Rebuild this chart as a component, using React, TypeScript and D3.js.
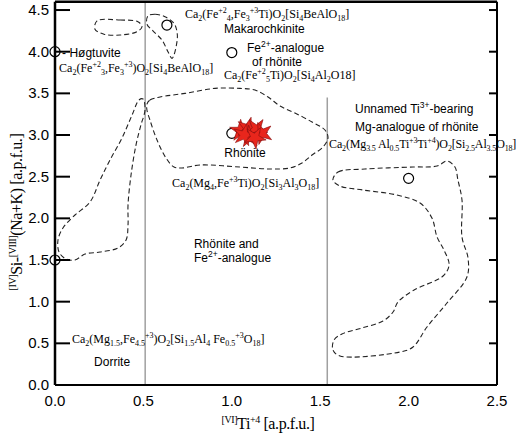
import React from 'react';
import * as d3 from 'd3';

const W = 520;
const H = 435;

// ---- data ----
const xTicks = [0, 0.5, 1.0, 1.5, 2.0, 2.5];
const yTicks = [0, 0.5, 1.0, 1.5, 2.0, 2.5, 3.0, 3.5, 4.0, 4.5];
const xDomain = [0, 2.5];
const yDomain = [0, 4.6];

const dividerLines = [
  { x: 0.51, y0: 0, y1: 4.6 },
  { x: 1.54, y0: 0, y1: 3.45 },
];

const contourSmallTop: [number, number][] = [
  [0.238, 4.37], [0.368, 4.38], [0.469, 4.36], [0.492, 4.30], [0.464, 4.24],
  [0.368, 4.20], [0.277, 4.21], [0.226, 4.27],
];
const contourTeardrop: [number, number][] = [
  [0.526, 4.43], [0.566, 4.45], [0.622, 4.42], [0.673, 4.34], [0.690, 4.24],
  [0.690, 4.12], [0.662, 3.92], [0.639, 4.00], [0.605, 4.14], [0.554, 4.25],
  [0.520, 4.33],
];
const contourRhonite: [number, number][] = [
  [0.520, 3.37], [0.537, 3.42], [0.594, 3.456], [0.735, 3.50], [0.905, 3.56],
  [1.046, 3.56], [1.131, 3.54], [1.205, 3.456], [1.273, 3.348], [1.357, 3.264],
  [1.454, 3.156], [1.527, 3.06], [1.544, 2.964], [1.516, 2.856], [1.454, 2.76],
  [1.397, 2.664], [1.329, 2.604], [1.216, 2.592], [1.046, 2.616], [0.820, 2.64],
  [0.718, 2.604], [0.673, 2.616], [0.628, 2.724], [0.577, 2.94], [0.537, 3.18],
  [0.520, 3.30],
];
const contourLeft: [number, number][] = [
  [0.498, 3.432], [0.509, 3.30], [0.486, 3.12], [0.458, 2.88], [0.430, 2.52],
  [0.413, 2.16], [0.413, 1.92], [0.402, 1.74], [0.356, 1.644], [0.255, 1.596],
  [0.170, 1.572], [0.113, 1.50], [0.062, 1.512], [0.023, 1.596], [0.017, 1.74],
  [0.045, 1.884], [0.113, 2.04], [0.198, 2.196], [0.255, 2.46], [0.311, 2.70],
  [0.379, 2.964], [0.436, 3.24], [0.475, 3.42],
];
const contourRight: [number, number][] = [
  [1.572, 2.46], [1.601, 2.556], [1.753, 2.592], [2.025, 2.616], [2.161, 2.628],
  [2.217, 2.688], [2.262, 2.616], [2.279, 2.46], [2.302, 2.22], [2.302, 1.776],
  [2.336, 1.524], [2.330, 1.296], [2.217, 0.984], [2.104, 0.696], [2.025, 0.456],
  [1.951, 0.396], [1.612, 0.348], [1.572, 0.42], [1.578, 0.54], [1.623, 0.612],
  [1.736, 0.684], [1.855, 0.768], [1.912, 0.876], [1.940, 0.996], [2.031, 1.14],
  [2.195, 1.308], [2.229, 1.44], [2.200, 1.62], [2.161, 1.776], [2.132, 2.004],
  [2.065, 2.184], [1.934, 2.28], [1.742, 2.34], [1.612, 2.388],
];
const contours = [contourSmallTop, contourTeardrop, contourRhonite, contourLeft, contourRight];

const endMemberX = [0.0, 0.0, 0.633, 1.0, 1.0, 2.0];
const endMemberY = [4.0, 1.5, 4.32, 3.99, 3.02, 2.48];

const starX = [1.05, 1.09, 1.14, 1.17, 1.10, 1.07, 1.13];
const starY = [3.05, 3.08, 3.07, 3.02, 2.98, 3.0, 2.97];

// labels (sans)
const nameLabels = [
  { t: 'Makarochkinite', x: 0.956, y: 4.224, a: 'start' },
  { t: 'Fe^{2+}-analogue', x: 1.086, y: 3.996, a: 'start' },
  { t: 'of rhönite', x: 1.114, y: 3.828, a: 'start' },
  { t: '- Høgtuvite', x: 0.04, y: 3.936, a: 'start' },
  { t: 'Rhönite', x: 1.075, y: 2.736, a: 'middle' },
  { t: 'Unnamed Ti^{3+}-bearing', x: 1.697, y: 3.264, a: 'start' },
  { t: 'Mg-analogue of rhönite', x: 1.697, y: 3.048, a: 'start' },
  { t: 'Rhönite and', x: 0.786, y: 1.644, a: 'start' },
  { t: 'Fe^{2+}-analogue', x: 0.786, y: 1.476, a: 'start' },
  { t: 'Dorrite', x: 0.221, y: 0.228, a: 'start' },
];
// formulas (serif)
const formulaLabels = [
  { t: 'Ca_{2}(Fe^{+2}_{4},Fe_{3}^{+3}Ti)O_{2}[Si_{4}BeAlO_{18}]', x: 0.735, y: 4.404 },
  { t: 'Ca_{2}(Fe^{+2}_{5}Ti)O_{2}[Si_{4}Al_{2}O18]', x: 0.956, y: 3.672 },
  { t: 'Ca_{2}(Fe^{+2}_{3},Fe_{3}^{+3})O_{2}[Si_{4}BeAlO_{18}]', x: 0.023, y: 3.756 },
  { t: 'Ca_{2}(Mg_{4},Fe^{+3}Ti)O_{2}[Si_{3}Al_{3}O_{18}]', x: 0.662, y: 2.376 },
  { t: 'Ca_{2}(Mg_{3.5} Al_{0.5}Ti^{+3}Ti^{+4})O_{2}[Si_{2.5}Al_{3.5}O_{18}]', x: 1.55, y: 2.844 },
  { t: 'Ca_{2}(Mg_{1.5},Fe_{4.5}^{+3})O_{2}[Si_{1.5}Al_{4} Fe_{0.5}^{+3}O_{18}]', x: 0.096, y: 0.504 },
];

const xTitle = '^{[VI]}Ti^{+4} [a.p.f.u.]';
const yTitle = '^{[IV]}Si-^{[VIII]}(Na+K) [a.p.f.u.]';

// ---- helpers ----
function parseRich(s: string) {
  const parts: { text: string; mode: 'n' | 'b' | 'p' }[] = [];
  const re = /(_\{[^}]*\}|\^\{[^}]*\})/g;
  let last = 0;
  let m: RegExpExecArray | null;
  while ((m = re.exec(s)) !== null) {
    if (m.index > last) parts.push({ text: s.slice(last, m.index), mode: 'n' });
    const tok = m[0];
    parts.push({ text: tok.slice(2, -1), mode: tok[0] === '_' ? 'b' : 'p' });
    last = m.index + tok.length;
  }
  if (last < s.length) parts.push({ text: s.slice(last), mode: 'n' });
  return parts;
}

function Rich(props: {
  s: string; x: number; y: number; size: number; family: string;
  anchor?: string; subSize?: number; supShift?: number; subShift?: number; transform?: string;
  spacing?: number;
}) {
  const { s, x, y, size, family, anchor = 'start', transform } = props;
  const small = props.subSize ?? size * 0.68;
  const sup = props.supShift ?? size * 0.42;
  const sub = props.subShift ?? size * 0.22;
  const parts = parseRich(s);
  let cur = 0;
  return (
    <text x={x} y={y} fontSize={size} fontFamily={family} textAnchor={anchor} fill="#000"
      transform={transform} letterSpacing={props.spacing ?? 0}>
      {parts.map((p, i) => {
        const target = p.mode === 'n' ? 0 : p.mode === 'p' ? -sup : sub;
        const dy = target - cur;
        cur = target;
        return (
          <tspan key={i} dy={dy} fontSize={p.mode === 'n' ? size : small}>
            {p.text}
          </tspan>
        );
      })}
    </text>
  );
}

const SANS = "'Liberation Sans', Arial, sans-serif";
const SERIF = "'Liberation Serif', 'Times New Roman', serif";

export default function App() {
  const x = d3.scaleLinear().domain(xDomain).range([55, 497]);
  const y = d3.scaleLinear().domain(yDomain).range([385, 1.7]);
  const line = d3
    .line<[number, number]>()
    .x((d) => x(d[0]))
    .y((d) => y(d[1]))
    .curve(d3.curveCatmullRomClosed.alpha(0.5));
  const star = d3.symbol().type(d3.symbolStar).size(150);

  const [x0, x1] = x.range();
  const [y0, y1] = y.range();

  return (
    <svg width={W} height={H} style={{ position: 'absolute', left: 0, top: 0, background: '#fff' }}>
      {dividerLines.map((l, i) => (
        <line key={i} x1={x(l.x)} x2={x(l.x)} y1={y(l.y0)} y2={y(l.y1)} stroke="#a0a0a0" strokeWidth={1.5} />
      ))}

      {contours.map((c, i) => (
        <path key={i} d={line(c) || ''} fill="none" stroke="#222" strokeWidth={1.1} strokeDasharray="5,3" />
      ))}

      {endMemberX.map((v, i) => (
        <circle key={i} cx={x(v)} cy={y(endMemberY[i])} r={5} fill="#fff" stroke="#000" strokeWidth={1.2} />
      ))}

      {starX.map((v, i) => (
        <path
          key={i}
          d={star() || ''}
          transform={`translate(${x(v)},${y(starY[i])}) rotate(${i * 17})`}
          fill="#e8261c"
          stroke="#8a1010"
          strokeWidth={0.6}
        />
      ))}

      <line x1={x0} x2={x0} y1={y0} y2={y1} stroke="#000" strokeWidth={2.5} />
      <line x1={x0} x2={x1} y1={y0} y2={y0} stroke="#000" strokeWidth={2} />
      <line x1={x1} x2={x1} y1={y0} y2={y1} stroke="#000" strokeWidth={2} />
      <line x1={x0} x2={x1} y1={y1} y2={y1} stroke="#000" strokeWidth={2.5} />

      {yTicks.map((t, i) => (
        <g key={i}>
          <line x1={x0} x2={x0 + 15} y1={y(t)} y2={y(t)} stroke="#000" strokeWidth={2} />
          <line x1={x1} x2={x1 - 8} y1={y(t)} y2={y(t)} stroke="#000" strokeWidth={2} />
          <text x={x0 - 6} y={y(t) + 5} fontSize={15} fontFamily={SANS} textAnchor="end">
            {d3.format('.1f')(t)}
          </text>
        </g>
      ))}
      {xTicks.map((t, i) => (
        <text key={i} x={x(t)} y={406} fontSize={15} fontFamily={SANS} textAnchor="middle">
          {d3.format('.1f')(t)}
        </text>
      ))}

      <Rich s={xTitle} x={268} y={429} size={16} family={SERIF} anchor="middle" subSize={10} supShift={6} spacing={-0.4} />
      <Rich s={yTitle} x={0} y={0} size={16} family={SERIF} anchor="middle" subSize={10} supShift={6} spacing={-0.4}
        transform={`translate(22,212) rotate(-90)`} />

      {nameLabels.map((l, i) => (
        <Rich key={i} s={l.t} x={x(l.x)} y={y(l.y)} size={12} family={SANS} anchor={l.a} subSize={8.5} supShift={5.5} />
      ))}
      {formulaLabels.map((l, i) => (
        <Rich key={i} s={l.t} x={x(l.x)} y={y(l.y)} size={12} family={SERIF} subSize={8} supShift={5} subShift={2.5}
          spacing={i === 4 ? -0.15 : 0} />
      ))}
    </svg>
  );
}
